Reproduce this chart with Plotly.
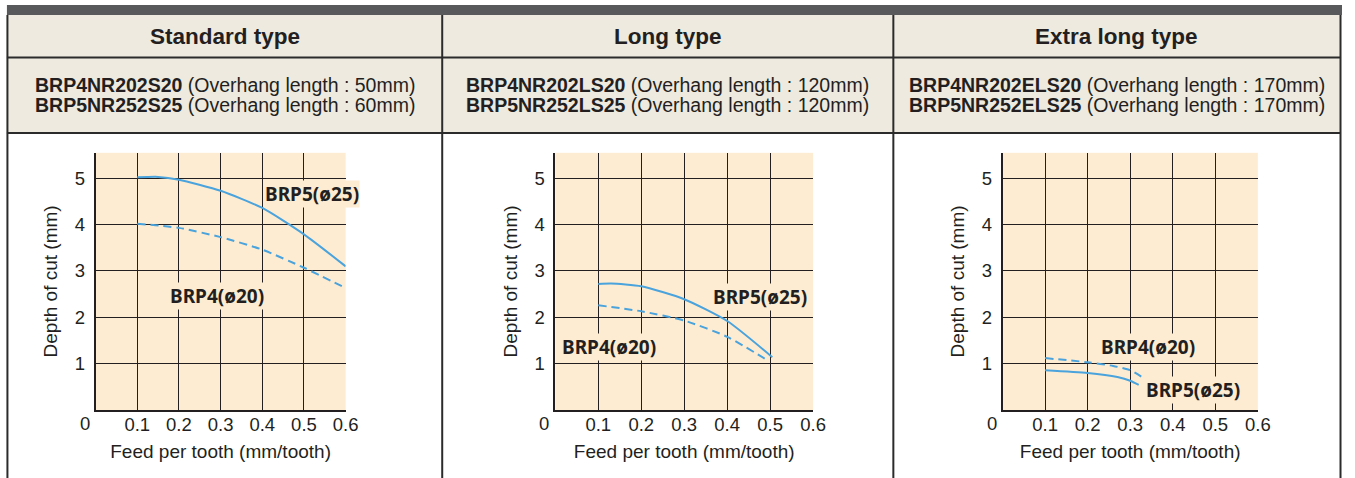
import plotly.graph_objects as go

# ---------------- data ----------------
panel_titles = ["Standard type", "Long type", "Extra long type"]
brp4_models = ["BRP4NR202S20", "BRP4NR202LS20", "BRP4NR202ELS20"]
brp5_models = ["BRP5NR252S25", "BRP5NR252LS25", "BRP5NR252ELS25"]
brp4_overhang_mm = [50, 120, 170]
brp5_overhang_mm = [60, 120, 170]

x_ticks = [0.1, 0.2, 0.3, 0.4, 0.5, 0.6]
x_tick_text = ["0.1", "0.2", "0.3", "0.4", "0.5", "0.6"]
y_ticks = [1, 2, 3, 4, 5]
y_tick_text = ["1", "2", "3", "4", "5"]

label_brp4 = "BRP4(ø20)"
label_brp5 = "BRP5(ø25)"
x_title = "Feed per tooth (mm/tooth)"
y_title = "Depth of cut (mm)"

# Standard type
std_feed_brp5 = [0.1, 0.15, 0.2, 0.3, 0.4, 0.5, 0.6]
std_depth_brp5 = [5.02, 5.03, 4.97, 4.73, 4.36, 3.79, 3.10]
std_feed_brp4 = [0.1, 0.2, 0.3, 0.4, 0.5, 0.6]
std_depth_brp4 = [4.02, 3.93, 3.73, 3.46, 3.07, 2.63]

# Long type
long_feed_brp5 = [0.1, 0.13, 0.2, 0.3, 0.4, 0.505]
long_depth_brp5 = [2.72, 2.73, 2.67, 2.39, 1.92, 1.14]
long_feed_brp4 = [0.1, 0.2, 0.3, 0.4, 0.496]
long_depth_brp4 = [2.26, 2.13, 1.93, 1.58, 1.06]

# Extra long type
xl_feed_brp5 = [0.1, 0.2, 0.27, 0.3, 0.32]
xl_depth_brp5 = [0.86, 0.80, 0.71, 0.63, 0.54]
xl_feed_brp4 = [0.1, 0.2, 0.26, 0.3, 0.326]
xl_depth_brp4 = [1.12, 1.03, 0.95, 0.86, 0.72]

feeds_brp5 = [std_feed_brp5, long_feed_brp5, xl_feed_brp5]
depths_brp5 = [std_depth_brp5, long_depth_brp5, xl_depth_brp5]
feeds_brp4 = [std_feed_brp4, long_feed_brp4, xl_feed_brp4]
depths_brp4 = [std_depth_brp4, long_depth_brp4, xl_depth_brp4]

# ---------------- layout / style ----------------
W, H = 1355, 478
def px(x):
    return x / W
def py(y):
    return 1 - y / H

TEXT = "#231f20"
GRID = "#231f20"
LINE_BLUE = "#4aa3dc"
PLOT_BG = "#fdecd2"
HEAD_BG = "#eeeae0"
BAR = "#58595b"
BORDER = "#2b2b2b"
FONT = "Liberation Sans, Arial, sans-serif"
LABEL_FONT = "Noto Sans, Open Sans, sans-serif"

plot_left = [96.5, 560.7, 1012.3]
plot_right = [349, 821, 1270]
plot_top, plot_bottom = 152.8, 410
col_edges = [7.5, 446.5, 902, 1353.5]

# label placement (data coordinates) per panel
label_pos_brp5 = [(0.52, 4.66), (0.476, 2.44), (0.448, 0.43)]
label_pos_brp4 = [(0.2915, 2.46), (0.124, 1.37), (0.343, 1.37)]

fig = go.Figure()
annotations = []
shapes = []

for i in range(3):
    xa = "x" if i == 0 else f"x{i+1}"
    ya = "y" if i == 0 else f"y{i+1}"
    fig.add_trace(go.Scatter(
        x=feeds_brp5[i], y=depths_brp5[i], mode="lines",
        line=dict(color=LINE_BLUE, width=2, shape="spline", smoothing=0.6),
        xaxis=xa, yaxis=ya, showlegend=False, hoverinfo="skip"))
    fig.add_trace(go.Scatter(
        x=feeds_brp4[i], y=depths_brp4[i], mode="lines",
        line=dict(color=LINE_BLUE, width=2, dash="8px,5px", shape="spline", smoothing=0.6),
        xaxis=xa, yaxis=ya, showlegend=False, hoverinfo="skip"))

    axis_common = dict(
        showgrid=True, gridcolor=GRID, gridwidth=1,
        showline=True, linecolor=GRID, linewidth=1.5,
        zeroline=False, tickcolor="rgba(0,0,0,0)",
        tickfont=dict(family=FONT, size=18.5, color=TEXT),
        fixedrange=True,
    )
    fig.update_layout(**{
        ("xaxis" if i == 0 else f"xaxis{i+1}"): dict(
            axis_common, domain=[px(plot_left[i]), px(plot_right[i])],
            range=[0, 0.6], tickvals=x_ticks, ticktext=x_tick_text, ticks="",
            ticklabelstandoff=-3,
            anchor=ya,
            title=dict(text=x_title, font=dict(family=FONT, size=19, color=TEXT), standoff=11)),
        ("yaxis" if i == 0 else f"yaxis{i+1}"): dict(
            axis_common, domain=[py(plot_bottom), py(plot_top)],
            range=[0, 5.55], tickvals=y_ticks, ticktext=y_tick_text,
            ticks="outside", ticklen=5,
            anchor=xa,
            title=dict(text=y_title, font=dict(family=FONT, size=19, color=TEXT), standoff=12)),
    })

    # origin "0"
    annotations.append(dict(x=0, y=0, xref=xa, yref=ya, text="0", showarrow=False,
                            xanchor="center", yanchor="middle", xshift=-11, yshift=-13,
                            font=dict(family=FONT, size=18.5, color=TEXT)))
    # curve labels
    for (lx, ly), lab in ((label_pos_brp5[i], label_brp5), (label_pos_brp4[i], label_brp4)):
        annotations.append(dict(x=lx, y=ly, xref=xa, yref=ya, text=f"<b>{lab}</b>",
                                showarrow=False, xanchor="center", yanchor="middle",
                                bgcolor=PLOT_BG, borderpad=0,
                                font=dict(family=LABEL_FONT, size=19, color=TEXT)))

    # header texts
    cx = (col_edges[i] + col_edges[i + 1]) / 2
    annotations.append(dict(x=px(cx), y=py(37), xref="paper", yref="paper",
                            text=f"<b>{panel_titles[i]}</b>", showarrow=False,
                            xanchor="center", yanchor="middle",
                            font=dict(family=FONT, size=22.5, color=TEXT)))
    annotations.append(dict(x=px(cx), y=py(84.5), xref="paper", yref="paper",
                            text=f"<b>{brp4_models[i]}</b> (Overhang length : {brp4_overhang_mm[i]}mm)",
                            showarrow=False, xanchor="center", yanchor="middle",
                            font=dict(family=FONT, size=19.5, color=TEXT)))
    annotations.append(dict(x=px(cx), y=py(104.5), xref="paper", yref="paper",
                            text=f"<b>{brp5_models[i]}</b> (Overhang length : {brp5_overhang_mm[i]}mm)",
                            showarrow=False, xanchor="center", yanchor="middle",
                            font=dict(family=FONT, size=19.5, color=TEXT)))

# table frame shapes
shapes.append(dict(type="rect", xref="paper", yref="paper", layer="below",
                   x0=px(7), x1=px(1355), y0=py(15), y1=py(5), fillcolor=BAR, line_width=0))
shapes.append(dict(type="rect", xref="paper", yref="paper", layer="below",
                   x0=px(7), x1=px(1353.5), y0=py(133), y1=py(15), fillcolor=HEAD_BG, line_width=0))
for yy in (57.5, 133):
    shapes.append(dict(type="line", xref="paper", yref="paper",
                       x0=px(7), x1=px(1354), y0=py(yy), y1=py(yy),
                       line=dict(color=BORDER, width=2)))
for xx in col_edges:
    shapes.append(dict(type="line", xref="paper", yref="paper",
                       x0=px(xx), x1=px(xx), y0=py(15), y1=py(478),
                       line=dict(color=BORDER, width=2)))

fig.update_layout(
    width=W, height=H, autosize=False, margin=dict(l=0, r=0, t=0, b=0),
    paper_bgcolor="white", plot_bgcolor=PLOT_BG,
    font=dict(family=FONT, color=TEXT),
    annotations=annotations, shapes=shapes, showlegend=False,
)

fig.write_html(
    "out.html",
    config={"responsive": False, "displayModeBar": False},
    post_script=(
        "document.body.style.margin='0';"
        "document.body.style.overflow='hidden';"
    ),
)
